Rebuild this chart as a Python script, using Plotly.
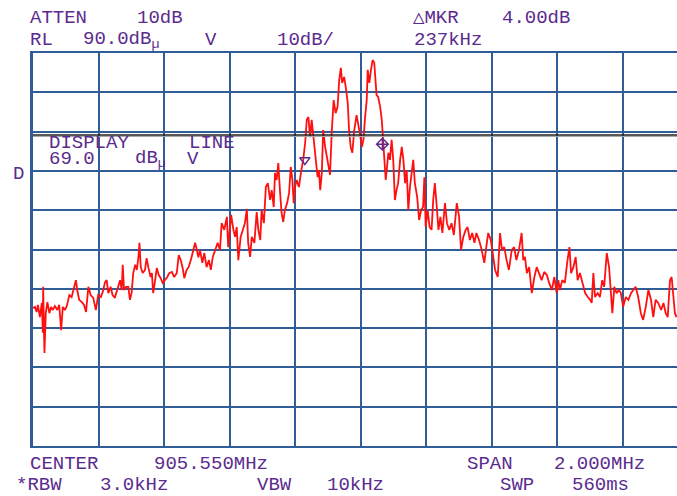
import plotly.graph_objects as go

# ---- instrument settings ----
center_mhz = 905.550
span_mhz = 2.000
ref_level = 90.0          # dBuV, top graticule line
db_per_div = 10.0
display_line = 69.0       # dBuV
ref_marker_freq = 905.380 # MHz
ref_marker_level = 62.8   # dBuV
delta_khz = 237
delta_db = 4.00

# ---- measured trace (frequency in MHz, level in dBuV) ----
freq_mhz = [
    904.550, 904.556, 904.561, 904.565, 904.571, 904.577, 904.580, 904.581, 904.585, 904.589,
    904.594, 904.600, 904.605, 904.610, 904.617, 904.624, 904.630, 904.636, 904.641, 904.647,
    904.653, 904.661, 904.668, 904.675, 904.681, 904.685, 904.691, 904.699, 904.706, 904.712,
    904.719, 904.726, 904.734, 904.742, 904.749, 904.757, 904.763, 904.770, 904.775, 904.780,
    904.787, 904.793, 904.800, 904.807, 904.816, 904.821, 904.824, 904.828, 904.834, 904.841,
    904.846, 904.851, 904.856, 904.862, 904.867, 904.872, 904.875, 904.879, 904.885, 904.892,
    904.897, 904.902, 904.909, 904.913, 904.917, 904.923, 904.928, 904.934, 904.940, 904.946,
    904.953, 904.960, 904.966, 904.974, 904.981, 904.989, 904.995, 905.001, 905.007, 905.012,
    905.019, 905.025, 905.032, 905.038, 905.045, 905.050, 905.055, 905.060, 905.067, 905.073,
    905.080, 905.087, 905.093, 905.099, 905.106, 905.114, 905.121, 905.126, 905.134, 905.142,
    905.146, 905.155, 905.162, 905.167, 905.172, 905.177, 905.184, 905.190, 905.197, 905.203,
    905.207, 905.213, 905.218, 905.226, 905.233, 905.238, 905.244, 905.248, 905.255, 905.261,
    905.267, 905.274, 905.279, 905.285, 905.289, 905.294, 905.299, 905.304, 905.309, 905.314,
    905.319, 905.326, 905.332, 905.337, 905.342, 905.346, 905.350, 905.355, 905.362, 905.368,
    905.375, 905.381, 905.386, 905.391, 905.396, 905.401, 905.406, 905.413, 905.419, 905.423,
    905.427, 905.432, 905.436, 905.442, 905.447, 905.452, 905.457, 905.462, 905.468, 905.474,
    905.480, 905.485, 905.490, 905.494, 905.500, 905.505, 905.511, 905.515, 905.520, 905.525,
    905.531, 905.538, 905.543, 905.548, 905.554, 905.559, 905.564, 905.569, 905.572, 905.577,
    905.582, 905.587, 905.592, 905.596, 905.599, 905.604, 905.610, 905.615, 905.619, 905.623,
    905.627, 905.631, 905.635, 905.640, 905.645, 905.650, 905.655, 905.660, 905.665, 905.671,
    905.676, 905.681, 905.686, 905.691, 905.696, 905.701, 905.706, 905.711, 905.716, 905.723,
    905.729, 905.735, 905.741, 905.745, 905.749, 905.755, 905.761, 905.767, 905.772, 905.777,
    905.783, 905.788, 905.794, 905.800, 905.808, 905.814, 905.821, 905.828, 905.835, 905.844,
    905.851, 905.857, 905.864, 905.871, 905.877, 905.884, 905.891, 905.898, 905.904, 905.912,
    905.920, 905.928, 905.934, 905.940, 905.948, 905.955, 905.961, 905.969, 905.976, 905.982,
    905.989, 905.996, 906.003, 906.012, 906.019, 906.026, 906.034, 906.042, 906.047, 906.052,
    906.058, 906.065, 906.073, 906.081, 906.088, 906.095, 906.103, 906.111, 906.119, 906.126,
    906.134, 906.142, 906.149, 906.154, 906.159, 906.166, 906.174, 906.181, 906.188, 906.193,
    906.200, 906.207, 906.213, 906.220, 906.227, 906.236, 906.244, 906.251, 906.256, 906.261,
    906.266, 906.274, 906.281, 906.288, 906.294, 906.302, 906.309, 906.315, 906.319, 906.325,
    906.332, 906.339, 906.345, 906.352, 906.360, 906.368, 906.376, 906.383, 906.390, 906.398,
    906.406, 906.413, 906.421, 906.429, 906.437, 906.444, 906.451, 906.459, 906.468, 906.475,
    906.482, 906.488, 906.495, 906.500, 906.505, 906.510, 906.515,
]

level_dbuv = [
    25.1, 25.4, 24.1, 25.9, 22.8, 26.4, 18.8, 30.5, 13.7, 23.8,
    26.6, 23.8, 25.4, 24.6, 25.6, 24.6, 25.9, 19.5, 25.4, 24.6,
    25.6, 28.4, 27.9, 30.2, 32.2, 29.7, 27.2, 26.6, 25.9, 24.1,
    30.5, 28.4, 27.7, 24.6, 28.4, 27.9, 29.2, 31.7, 32.2, 28.9,
    30.5, 28.4, 27.7, 29.7, 32.2, 29.7, 36.1, 29.7, 30.5, 30.5,
    27.2, 28.9, 34.0, 36.1, 34.8, 38.1, 41.7, 35.5, 34.0, 34.8,
    37.8, 35.5, 33.0, 34.0, 28.9, 32.2, 35.3, 33.5, 32.7, 31.5,
    32.2, 33.0, 34.0, 34.3, 33.0, 34.0, 38.6, 37.3, 35.3, 32.7,
    34.8, 35.5, 37.3, 39.1, 41.7, 40.0, 38.0, 39.9, 36.6, 39.1,
    35.5, 37.3, 34.8, 38.1, 39.9, 41.7, 39.9, 46.7, 45.0, 48.3,
    40.6, 48.8, 45.0, 43.2, 45.7, 37.3, 43.2, 45.0, 46.7, 50.3,
    41.7, 38.1, 43.2, 41.7, 49.5, 45.0, 42.4, 50.0, 46.7, 55.9,
    56.9, 52.6, 55.1, 50.8, 59.5, 57.7, 62.0, 55.1, 49.3, 47.0,
    50.0, 51.8, 54.4, 61.0, 57.7, 51.8, 55.9, 57.7, 55.9, 59.5,
    62.8, 67.1, 73.0, 73.7, 68.6, 73.0, 68.6, 62.8, 58.4, 60.2,
    55.1, 59.5, 70.4, 66.1, 63.5, 62.0, 59.0, 69.6, 78.0, 74.7,
    76.3, 83.1, 86.2, 82.4, 83.9, 81.3, 77.3, 70.4, 66.1, 64.6,
    70.4, 74.2, 72.2, 69.6, 66.1, 67.9, 73.7, 78.0, 85.7, 82.4,
    85.7, 88.2, 87.5, 83.9, 79.3, 78.8, 76.3, 73.0, 67.1, 62.0,
    57.7, 61.0, 64.6, 62.8, 67.9, 62.8, 52.6, 55.1, 56.9, 62.8,
    66.1, 62.8, 56.9, 60.2, 50.0, 55.9, 59.5, 62.8, 56.9, 53.4,
    47.5, 50.0, 50.8, 58.4, 45.7, 50.0, 45.7, 45.0, 52.6, 56.9,
    50.8, 45.0, 48.3, 44.2, 51.8, 46.7, 45.0, 46.7, 43.7, 51.8,
    48.3, 39.9, 43.2, 45.0, 45.7, 42.4, 44.2, 41.7, 44.2, 42.4,
    39.9, 36.6, 40.6, 44.2, 42.4, 38.1, 34.8, 33.0, 44.2, 39.9,
    40.6, 37.3, 34.8, 39.9, 40.6, 37.3, 39.9, 44.2, 37.3, 38.1,
    34.0, 35.5, 28.9, 33.0, 35.5, 34.0, 32.2, 34.3, 33.5, 31.5,
    29.7, 33.0, 28.9, 32.2, 29.7, 32.2, 31.5, 36.6, 40.6, 34.0,
    35.5, 38.1, 32.2, 34.0, 31.5, 28.9, 27.9, 27.2, 26.4, 34.0,
    27.9, 28.9, 27.9, 32.2, 30.5, 39.1, 35.5, 27.9, 23.8, 30.5,
    28.9, 29.7, 28.9, 25.4, 27.9, 27.2, 28.9, 29.7, 30.5, 27.9,
    23.8, 22.1, 25.4, 29.7, 27.2, 22.8, 27.2, 26.4, 24.6, 26.4,
    23.8, 22.8, 32.2, 33.0, 27.2, 23.8, 22.8,
]
assert len(freq_mhz) == len(level_dbuv)

# ---- screen geometry ----
FIG_W, FIG_H = 677, 496
PLOT_L, PLOT_T = 33, 53
PLOT_W, PLOT_H = FIG_W - PLOT_L, 393
DIV_PX = 65.5                      # width of one horizontal division
f_start = center_mhz - span_mhz / 2
f_per_div = span_mhz / 10
x_max = f_start + f_per_div * PLOT_W / DIV_PX   # right side of the graticule runs off screen
y_min = ref_level - 10 * db_per_div

GRID = "#2f5d97"
TEXT = "#5b2b8e"
FONT = "Liberation Mono, Courier New, monospace"

fig = go.Figure()

fig.add_trace(go.Scatter(
    x=freq_mhz, y=level_dbuv, mode="lines",
    line=dict(color="#ff1010", width=1.8), hoverinfo="skip", showlegend=False,
))

# reference marker and delta marker
delta_freq = ref_marker_freq + delta_khz / 1000.0
delta_level = ref_marker_level + delta_db
fig.add_trace(go.Scatter(
    x=[ref_marker_freq], y=[ref_marker_level], mode="markers",
    marker=dict(symbol="triangle-down-open", size=9, color=TEXT, line=dict(width=1.5)),
    showlegend=False, hoverinfo="skip",
))
fig.add_trace(go.Scatter(
    x=[delta_freq], y=[delta_level], mode="markers",
    marker=dict(symbol="diamond-cross-open", size=9, color=TEXT, line=dict(width=1.5)),
    showlegend=False, hoverinfo="skip",
))

# display line (double line: dark over light)
fig.add_shape(type="line", xref="x", yref="y", x0=f_start, x1=x_max,
              y0=display_line + 0.15, y1=display_line + 0.15,
              line=dict(color="#202020", width=1.5))
fig.add_shape(type="line", xref="x", yref="y", x0=f_start, x1=x_max,
              y0=display_line - 0.25, y1=display_line - 0.25,
              line=dict(color="#a8a8a8", width=1.2))


def px(x):
    return (x - PLOT_L) / PLOT_W


def py(y):
    return (PLOT_T + PLOT_H - y) / PLOT_H


labels = [
    ("ATTEN", 28, 18), ("10dB", 135, 18),
    ("\u25b3MKR", 411, 18), (f"{delta_db:.2f}dB", 500, 18),
    ("RL", 28, 40), (f"{ref_level:.1f}dB<sub>\u00b5</sub>", 81, 40), ("V", 203, 40),
    (f"{db_per_div:.0f}dB/", 275, 40), (f"{delta_khz}kHz", 412, 40),
    ("DISPLAY", 47, 143), ("LINE", 187, 143),
    (f"{display_line:.1f}", 47, 159), ("dB<sub>\u00b5</sub>", 133, 159), ("V", 185, 159),
    ("D", 11, 174),
    ("CENTER", 28, 464), (f"{center_mhz:.3f}MHz", 152, 464),
    ("SPAN", 465, 464), (f"{span_mhz:.3f}MHz", 552, 464),
    ("*RBW", 14, 485), ("3.0kHz", 98, 485), ("VBW", 255, 485), ("10kHz", 325, 485),
    ("SWP", 498, 485), ("560ms", 570, 485),
]
for text, x, y in labels:
    fig.add_annotation(
        text=text, xref="paper", yref="paper", x=px(x), y=py(y),
        xanchor="left", yanchor="middle", showarrow=False,
        font=dict(family=FONT, size=19, color=TEXT),
    )

fig.update_xaxes(
    range=[f_start, x_max], tick0=f_start, dtick=f_per_div,
    showgrid=True, gridcolor=GRID, gridwidth=2,
    showline=True, linecolor=GRID, linewidth=2, mirror=True,
    zeroline=False, showticklabels=False, ticks="",
)
fig.update_yaxes(
    range=[y_min, ref_level], tick0=y_min, dtick=db_per_div,
    showgrid=True, gridcolor=GRID, gridwidth=2,
    showline=True, linecolor=GRID, linewidth=2.5, mirror=False,
    zeroline=False, showticklabels=False, ticks="",
)
fig.update_layout(
    width=FIG_W, height=FIG_H,
    margin=dict(l=PLOT_L, r=0, t=PLOT_T, b=FIG_H - PLOT_T - PLOT_H, pad=0),
    paper_bgcolor="white", plot_bgcolor="white",
    showlegend=False,
)

fig.write_html("out.html", config={"displayModeBar": False})
